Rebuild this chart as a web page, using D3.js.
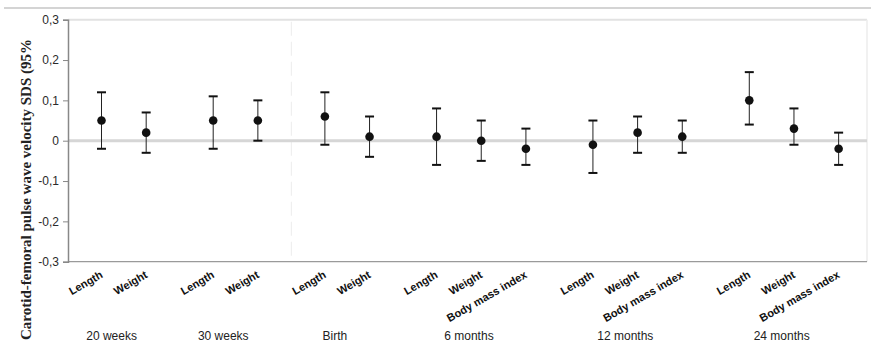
<!DOCTYPE html>
<html>
<head>
<meta charset="utf-8">
<script src="https://cdn.jsdelivr.net/npm/d3@7"></script>
<style>
  html, body { margin: 0; padding: 0; background: #fff; }
  svg { display: block; }
</style>
</head>
<body>
<svg id="chart" width="871" height="355"></svg>
<script>
// ---- data ----
const groups = ["20 weeks", "30 weeks", "Birth", "6 months", "12 months", "24 months"];
const groupItems = [
  ["Length", "Weight"],
  ["Length", "Weight"],
  ["Length", "Weight"],
  ["Length", "Weight", "Body mass index"],
  ["Length", "Weight", "Body mass index"],
  ["Length", "Weight", "Body mass index"]
];
const estimate = [0.05, 0.02, 0.05, 0.05, 0.06, 0.01, 0.01, 0.00, -0.02, -0.01, 0.02, 0.01, 0.10, 0.03, -0.02];
const lower    = [-0.02, -0.03, -0.02, 0.00, -0.01, -0.04, -0.06, -0.05, -0.06, -0.08, -0.03, -0.03, 0.04, -0.01, -0.06];
const upper    = [0.12, 0.07, 0.11, 0.10, 0.12, 0.06, 0.08, 0.05, 0.03, 0.05, 0.06, 0.05, 0.17, 0.08, 0.02];
const yTicks   = [0.3, 0.2, 0.1, 0, -0.1, -0.2, -0.3];
const yTitle   = "Carotid-femoral pulse wave velocity SDS (95%";

(function () {
// ---- layout of slots: 2 half-units within group, 3 between groups ----
const points = [];
const groupInfo = [];
let pos = 0;
groups.forEach((g, gi) => {
  const start = pos;
  groupItems[gi].forEach((name, k) => {
    if (k > 0) pos += 2;
    points.push({ group: g, name: name, pos: pos });
  });
  groupInfo.push({ name: g, start: start, end: pos });
  pos += 3;
});
points.forEach((p, i) => { p.est = estimate[i]; p.lo = lower[i]; p.hi = upper[i]; });

const svg = d3.select("#chart");
const pLeft = 68, pRight = 867, pTop = 19.7, pBottom = 261.7;

const x = d3.scaleLinear().domain([-1.5, 34.27]).range([pLeft, pRight]);
const y = d3.scaleLinear().domain([-0.3, 0.3]).range([pBottom, pTop]);

// outer top rule
svg.append("line").attr("x1", 4).attr("x2", 871).attr("y1", 8).attr("y2", 8)
  .attr("stroke", "#aaa").attr("stroke-width", 1.2);

// plot frame (light)
svg.append("line").attr("x1", pLeft).attr("x2", pRight).attr("y1", pTop).attr("y2", pTop)
  .attr("stroke", "#e2e2e2").attr("stroke-width", 2);
svg.append("line").attr("x1", pRight).attr("x2", pRight).attr("y1", pTop).attr("y2", pBottom)
  .attr("stroke", "#ececec").attr("stroke-width", 1.5);

// faint separator between 30 weeks and Birth
const sepX = x((groupInfo[1].end + groupInfo[2].start) / 2);
svg.append("line").attr("x1", sepX).attr("x2", sepX).attr("y1", pTop + 2).attr("y2", pBottom)
  .attr("stroke", "#efefef").attr("stroke-width", 1.2).attr("stroke-dasharray", "14,6");

// zero line
svg.append("line").attr("x1", pLeft).attr("x2", pRight).attr("y1", y(0)).attr("y2", y(0))
  .attr("stroke", "#d6d6d6").attr("stroke-width", 3);

// bottom axis line
svg.append("line").attr("x1", pLeft).attr("x2", pRight).attr("y1", pBottom).attr("y2", pBottom)
  .attr("stroke", "#9a9a9a").attr("stroke-width", 1.2);

// y axis
const yAxis = d3.axisLeft(y).tickValues(yTicks).tickSize(5).tickPadding(4)
  .tickFormat(d => d === 0 ? "0" : d3.format(".1f")(d).replace(".", ",").replace("−", "-"));
const gy = svg.append("g").attr("transform", `translate(${pLeft},0)`).call(yAxis);
gy.select(".domain").attr("stroke", "#888").attr("stroke-width", 1.5);
gy.selectAll(".tick line").attr("stroke", "#888");
gy.selectAll(".tick text").attr("fill", "#2a2a2a")
  .style("font-family", "'Liberation Sans', Arial, sans-serif").style("font-size", "12px");

// y title
svg.append("text")
  .attr("transform", `translate(31,${(32 + 347) / 2}) rotate(-90)`)
  .attr("text-anchor", "middle")
  .style("font-family", "'Liberation Serif', 'Times New Roman', serif")
  .style("font-weight", "bold").style("font-size", "15px").attr("fill", "#222")
  .text(yTitle);

// error bars
const capW = 4.5;
const eb = svg.append("g");
points.forEach(p => {
  const cx = x(p.pos);
  eb.append("line").attr("x1", cx).attr("x2", cx).attr("y1", y(p.hi)).attr("y2", y(p.lo))
    .attr("stroke", "#222").attr("stroke-width", 1);
  [p.hi, p.lo].forEach(v => {
    eb.append("line").attr("x1", cx - capW).attr("x2", cx + capW).attr("y1", y(v)).attr("y2", y(v))
      .attr("stroke", "#111").attr("stroke-width", 2);
  });
  eb.append("circle").attr("cx", cx).attr("cy", y(p.est)).attr("r", 4.3).attr("fill", "#111");
});

// category labels (rotated)
const lab = svg.append("g");
points.forEach(p => {
  const lx = x(p.pos) + 2, ly = 277;
  lab.append("text")
    .attr("transform", `translate(${lx},${ly}) rotate(-30)`)
    .attr("text-anchor", "end")
    .style("font-family", "'Liberation Sans', Arial, sans-serif")
    .style("font-weight", "bold").style("font-size", "11px").attr("fill", "#111")
    .text(p.name);
});

// group labels
groupInfo.forEach(g => {
  svg.append("text")
    .attr("x", x((g.start + g.end) / 2 - 0.55))
    .attr("y", 340)
    .attr("text-anchor", "middle")
    .style("font-family", "'Liberation Sans', Arial, sans-serif")
    .style("font-size", "12px").attr("fill", "#222")
    .text(g.name);
});
})();
</script>
</body>
</html>
